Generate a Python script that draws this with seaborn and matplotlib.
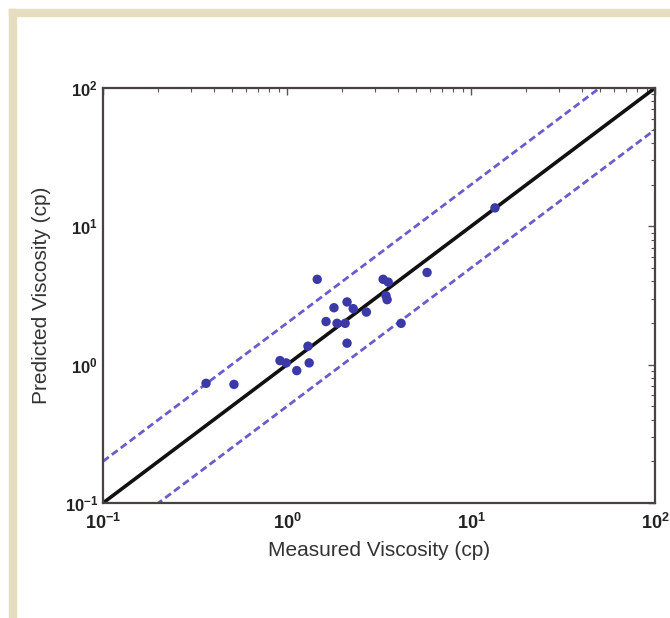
import numpy as np
import pandas as pd
import matplotlib
matplotlib.use("Agg")
import matplotlib.pyplot as plt
from matplotlib.patches import Rectangle
import seaborn as sns

# Measured vs. predicted viscosity (cp)
measured = [0.363, 0.515, 0.916, 0.99, 1.13, 1.32, 1.30, 1.46, 1.63, 1.80, 1.87,
            2.07, 2.12, 2.12, 2.29, 2.70, 3.33, 3.55, 3.45, 3.50, 4.17, 5.77, 13.5]
predicted = [0.733, 0.72, 1.07, 1.03, 0.906, 1.03, 1.36, 4.14, 2.05, 2.58, 1.99,
             1.99, 2.84, 1.43, 2.54, 2.40, 4.14, 3.95, 3.15, 2.95, 1.99, 4.64, 13.6]

# Parity line and factor-of-two bounds
line_x = [0.1, 100.0]
factors = [1.0, 2.0, 0.5]

ticks = [0.1, 1, 10, 100]
tick_labels = [r"$\mathbf{10^{-1}}$", r"$\mathbf{10^{0}}$", r"$\mathbf{10^{1}}$", r"$\mathbf{10^{2}}$"]

sns.set_style("white")
plt.rcParams["font.family"] = ["Liberation Sans", "DejaVu Sans"]
plt.rcParams["mathtext.fontset"] = "custom"
plt.rcParams["mathtext.rm"] = "Liberation Sans"
plt.rcParams["mathtext.bf"] = "Liberation Sans:bold"

fig = plt.figure(figsize=(6.7, 6.18), dpi=100)
fig.patch.set_facecolor("white")
ax = fig.add_axes([103 / 670, 1 - 503 / 618, (655 - 103) / 670, (503 - 88) / 618])

# Beige frame along top and left edges
fig.patches.append(Rectangle((9 / 670, 1 - 15.5 / 618), 1, 6.5 / 618,
                             transform=fig.transFigure, color="#e6dcc0", zorder=0))
fig.patches.append(Rectangle((9 / 670, 0), 6.5 / 670, 1 - 9 / 618,
                             transform=fig.transFigure, color="#e6dcc0", zorder=0))

lines = pd.DataFrame({
    "x": line_x * 3,
    "y": [v * f for f in factors for v in line_x],
    "kind": ["parity"] * 2 + ["upper"] * 2 + ["lower"] * 2,
})
sns.lineplot(data=lines[lines.kind == "parity"], x="x", y="y", color="#111111",
             lw=2.6, ax=ax, estimator=None)
for k in ["upper", "lower"]:
    sns.lineplot(data=lines[lines.kind == k], x="x", y="y", color="#6a5ccc",
                 lw=2.0, ax=ax, estimator=None, linestyle=(0, (2.6, 1.4)))

pts = pd.DataFrame({"measured": measured, "predicted": predicted})
sns.scatterplot(data=pts, x="measured", y="predicted", color="#3b38a8", s=46,
                edgecolor="none", ax=ax, zorder=5)

ax.set_xscale("log")
ax.set_yscale("log")
ax.set_xlim(0.1, 100)
ax.set_ylim(0.1, 100)
ax.set_xticks(ticks)
ax.set_xticklabels(tick_labels, fontsize=13)
ax.set_yticks(ticks)
ax.set_yticklabels(tick_labels, fontsize=12)
ax.tick_params(which="both", direction="in", top=True, right=True,
               color="#555555", labelcolor="#222222")
ax.tick_params(which="major", length=5, width=1)
ax.tick_params(which="minor", length=3, width=0.8)
ax.tick_params(axis="x", pad=7)
for s in ax.spines.values():
    s.set_color("#4a4242")
    s.set_linewidth(1.6)

ax.set_xlabel("Measured Viscosity (cp)", fontsize=15, color="#333333", labelpad=6)
ax.set_ylabel("Predicted Viscosity (cp)", fontsize=15, color="#333333", labelpad=10)

fig.savefig("out.png", dpi=100, facecolor="white")
